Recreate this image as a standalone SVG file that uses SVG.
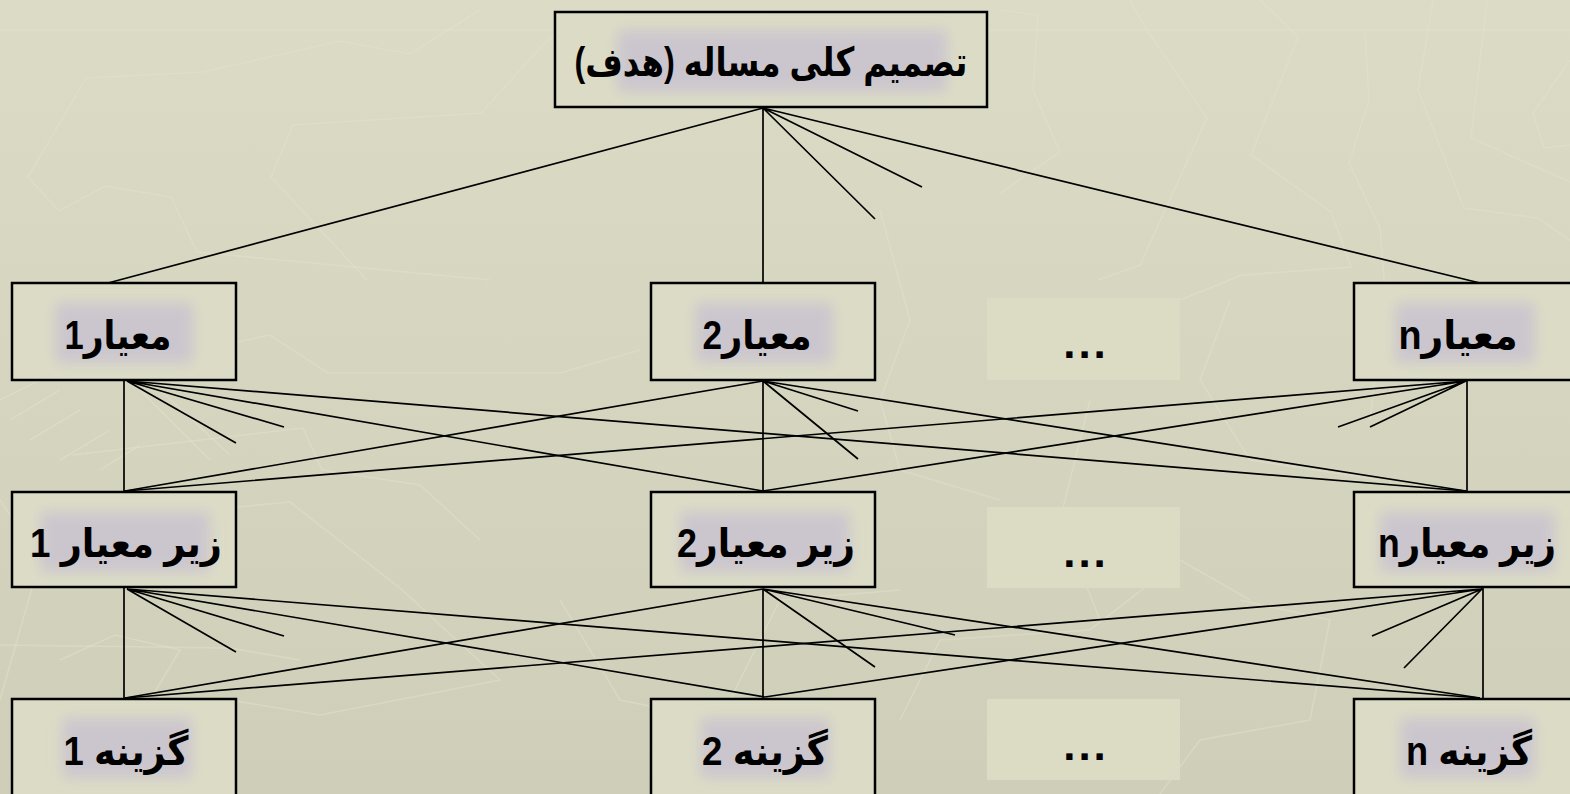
<svg xmlns="http://www.w3.org/2000/svg" width="1570" height="794" viewBox="0 0 1570 794">
<defs>
<linearGradient id="bg" x1="0" y1="0" x2="0" y2="1">
<stop offset="0" stop-color="#dbdbc6"/>
<stop offset="1" stop-color="#cfcfb9"/>
</linearGradient>
<filter id="blur" x="-20%" y="-40%" width="140%" height="180%"><feGaussianBlur stdDeviation="7"/></filter>
<style>
.tex{fill:none;stroke:#e4e4d2;stroke-width:1.6;opacity:0.4}
.box{fill:#dcdcc6;stroke:#000;stroke-width:2.5}
.dots{fill:#dcdcc5}
.glow{fill:#c4bdd1;opacity:0.7;filter:url(#blur)}
.lbl{font-family:"Liberation Sans","DejaVu Sans",sans-serif;font-weight:bold;font-size:40px;fill:#000;text-anchor:middle;direction:rtl}
.dt{font-family:"Liberation Sans","DejaVu Sans",sans-serif;font-weight:bold;font-size:44px;letter-spacing:3px;fill:#000;text-anchor:middle}
.ln{stroke:#000;stroke-width:1.7;fill:none}
</style>
</defs>
<rect x="0" y="0" width="1570" height="794" fill="url(#bg)"/>
<g id="texture">
<path class="tex" d="M0 30 H1570"/>
<path class="tex" d="M490 280 L197 252 L171 197 L105 186 L59 211 L28 177 L86 78 L203 72 L340 41 L410 54 L448 30 L480 10"/>
<path class="tex" d="M367 280 L271 177 L293 125 L481 113 L541 47 L580 10"/>
<path class="tex" d="M1000 10 L1038 15 L1033 90 L1060 152 L1000 193"/>
<path class="tex" d="M1130 0 L1145 27 L1207 118 L1140 265 L1098 280"/>
<path class="tex" d="M1260 0 L1298 37 L1251 155 L1331 212 L1351 267 L1242 275 L1180 300"/>
<path class="tex" d="M1365 32 L1369 100 L1349 163 L1380 228 L1385 290 L1370 420"/>
<path class="tex" d="M1433 0 L1418 90 L1464 208 L1538 218 L1570 240"/>
<path class="tex" d="M1487 0 L1471 138 L1570 182"/>
<path class="tex" d="M1570 60 L1533 113 L1544 148 L1570 145"/>
<path class="tex" d="M237 342 L270 335 L328 373 L560 373 L640 350"/>
<path class="tex" d="M72 455 L303 428 L322 470 L420 485 L480 540"/>
<path class="tex" d="M237 507 L290 502 L400 588 L500 680 L320 715 L230 700"/>
<path class="tex" d="M0 700 L40 560 L0 500"/>
<path class="tex" d="M60 660 L115 635 L180 650 L150 700"/>
<path class="tex" d="M0 645 L230 648 L300 660"/>
<path class="tex" d="M560 600 L620 700 L720 720 L780 600 L900 590"/>
<path class="tex" d="M900 720 L940 640 L1090 630 L1180 560 L1250 600"/>
<path class="tex" d="M880 210 L910 320 L880 400 L900 470 L1000 500"/>
<path class="tex" d="M1090 400 L1060 520 L1100 620"/>
<path class="tex" d="M1230 300 L1200 380 L1250 460 L1380 480"/>
<path class="tex" d="M1240 600 L1330 620 L1310 720 L1200 740 L1160 794"/>
<path class="tex" d="M0 400 L40 380 M10 420 L60 390 M30 440 L80 410 M60 460 L110 430 M100 470 L140 445"/>
<path class="tex" d="M140 390 L210 460 M160 390 L230 455"/>
</g>
<g id="connectors">
<path class="ln" d="M763 108 L108 283 M763 108 L763 283 M763 108 L922 187 M763 108 L875 219 M763 108 L1480 283"/>
<path class="ln" d="M124 380 L124 492 M127 381 L763 491 M127 381 L1466 491 M127 381 L236 443 M127 381 L284 427"/>
<path class="ln" d="M763 381 L125 491 M763 381 L763 491 M763 381 L1466 491 M763 381 L858 411 M763 381 L858 459"/>
<path class="ln" d="M1467 380 L1467 492 M1466 381 L125 491 M1466 381 L763 491 M1466 381 L1338 427 M1466 381 L1370 427"/>
<path class="ln" d="M124 588 L124 699 M127 589 L765 697 M127 589 L1480 698 M127 589 L236 652 M127 589 L284 636"/>
<path class="ln" d="M763 589 L125 698 M763 589 L763 698 M763 589 L1480 698 M763 589 L955 635 M763 589 L875 667"/>
<path class="ln" d="M1483 588 L1483 699 M1482 589 L125 698 M1482 589 L765 697 M1482 589 L1372 636 M1482 589 L1404 668"/>
</g>
<g id="goal">
<rect class="box" x="555" y="12" width="432" height="95"/>
<rect class="glow" x="617" y="30" width="330" height="62"/>
<text class="lbl" x="771" y="76" textLength="393" lengthAdjust="spacingAndGlyphs">تصميم كلی مساله (هدف)</text>
</g>
<g id="c1">
<rect class="box" x="12" y="283" width="224" height="97"/>
<rect class="glow" x="55" y="303" width="138" height="60"/>
<text class="lbl" x="118" y="349" textLength="107" lengthAdjust="spacingAndGlyphs">معيار1</text>
</g>
<g id="c2">
<rect class="box" x="651" y="283" width="224" height="97"/>
<rect class="glow" x="695" y="303" width="138" height="60"/>
<text class="lbl" x="757" y="349" textLength="109" lengthAdjust="spacingAndGlyphs">معيار2</text>
</g>
<g id="cdots">
<rect class="dots" x="987" y="298" width="193" height="82"/>
<text class="dt" x="1086" y="358">...</text>
</g>
<g id="cn">
<rect class="box" x="1354" y="283" width="224" height="97"/>
<rect class="glow" x="1395" y="303" width="140" height="60"/>
<text class="lbl" x="1458" y="349" textLength="119" lengthAdjust="spacingAndGlyphs">معيارn</text>
</g>
<g id="s1">
<rect class="box" x="12" y="492" width="224" height="95"/>
<rect class="glow" x="40" y="512" width="170" height="60"/>
<text class="lbl" x="126" y="557" textLength="192" lengthAdjust="spacingAndGlyphs">زير معيار 1</text>
</g>
<g id="s2">
<rect class="box" x="651" y="492" width="224" height="95"/>
<rect class="glow" x="680" y="512" width="170" height="60"/>
<text class="lbl" x="766" y="557" textLength="178" lengthAdjust="spacingAndGlyphs">زير معيار2</text>
</g>
<g id="sdots">
<rect class="dots" x="987" y="507" width="193" height="81"/>
<text class="dt" x="1086" y="567">...</text>
</g>
<g id="sn">
<rect class="box" x="1354" y="492" width="224" height="95"/>
<rect class="glow" x="1380" y="512" width="175" height="60"/>
<text class="lbl" x="1467" y="557" textLength="178" lengthAdjust="spacingAndGlyphs">زير معيارn</text>
</g>
<g id="a1">
<rect class="box" x="12" y="699" width="224" height="97"/>
<rect class="glow" x="62" y="718" width="130" height="60"/>
<text class="lbl" x="126" y="765" textLength="125" lengthAdjust="spacingAndGlyphs">گزينه 1</text>
</g>
<g id="a2">
<rect class="box" x="651" y="699" width="224" height="97"/>
<rect class="glow" x="700" y="718" width="130" height="60"/>
<text class="lbl" x="765" y="765" textLength="126" lengthAdjust="spacingAndGlyphs">گزينه 2</text>
</g>
<g id="adots">
<rect class="dots" x="987" y="699" width="193" height="81"/>
<text class="dt" x="1086" y="760">...</text>
</g>
<g id="an">
<rect class="box" x="1354" y="699" width="224" height="97"/>
<rect class="glow" x="1400" y="718" width="135" height="60"/>
<text class="lbl" x="1469" y="765" textLength="126" lengthAdjust="spacingAndGlyphs">گزينه n</text>
</g>
</svg>
